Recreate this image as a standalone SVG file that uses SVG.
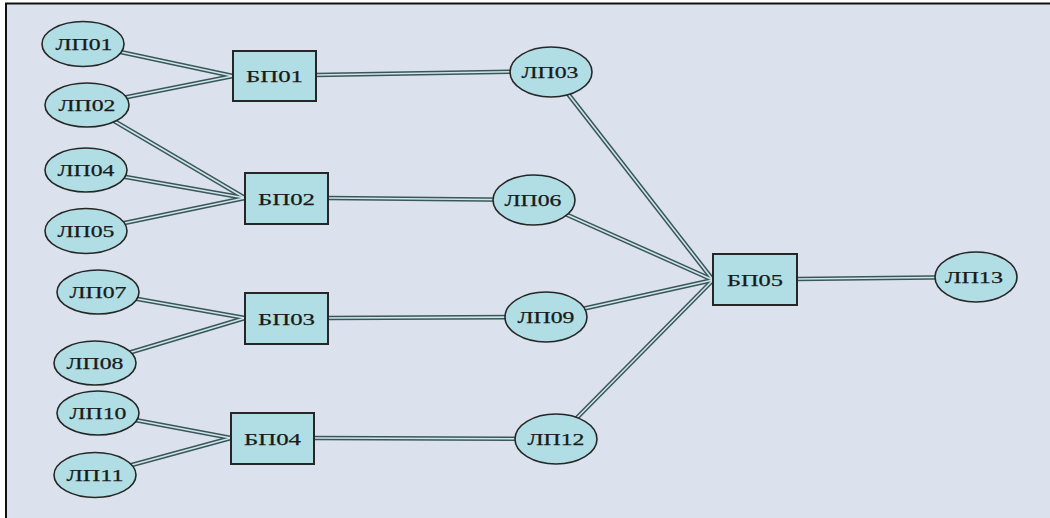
<svg xmlns="http://www.w3.org/2000/svg" xmlns:xlink="http://www.w3.org/1999/xlink" width="1050" height="518" viewBox="0 0 1050 518">
  <style>
    .lp { fill: #b1dee4; stroke: #262626; stroke-width: 1.6; }
    .bp { fill: #b1dee4; stroke: #262626; stroke-width: 2; }
    .lbl { font-family: "Liberation Serif", "Times New Roman", serif; font-size: 17px; fill: #1a1a1a; text-anchor: middle; stroke: #1a1a1a; stroke-width: 0.25; }
    .edges path { fill: none; }
  </style>
  <defs>
    <!-- shared geometry of all links; drawn twice to give the double-line look -->
    <g id="edge-paths" class="edges">
      <path d="M83,44 L233,76"/>
      <path d="M87,105 L233,76"/>
      <path d="M87,105 L245,198"/>
      <path d="M86,170 L245,198"/>
      <path d="M86,231 L245,198"/>
      <path d="M316,75 L551,71"/>
      <path d="M328,198 L534,200"/>
      <path d="M98,292 L245,318"/>
      <path d="M95,363 L245,318"/>
      <path d="M328,318 L546,317"/>
      <path d="M98,413 L231,438"/>
      <path d="M95,475 L231,438"/>
      <path d="M314,438 L556,439"/>
      <path d="M551,72 L713,280"/>
      <path d="M534,200 L713,280"/>
      <path d="M546,317 L713,280"/>
      <path d="M556,439 L713,280"/>
      <path d="M797,279 L976,277"/>
    </g>
  </defs>

  <!-- page and frame -->
  <rect x="0" y="0" width="1050" height="518" fill="#ffffff"/>
  <rect x="6" y="3.5" width="1044" height="515" fill="#dce2ed"/>
  <line x1="5" y1="3.5" x2="1050" y2="3.5" stroke="#111" stroke-width="2"/>
  <line x1="6" y1="3" x2="6" y2="518" stroke="#111" stroke-width="2"/>

  <g id="connectors">
    <use xlink:href="#edge-paths" stroke="#3a5659" stroke-width="4.6"/>
    <use xlink:href="#edge-paths" stroke="#cde6ea" stroke-width="1.6"/>
  </g>

  <g id="LP01"><ellipse class="lp" cx="83" cy="44" rx="41" ry="22.5"/><text class="lbl" x="84" y="50" textLength="57" lengthAdjust="spacingAndGlyphs">ЛП01</text></g>
  <g id="LP02"><ellipse class="lp" cx="87" cy="105" rx="42" ry="22"/><text class="lbl" x="87" y="111" textLength="57" lengthAdjust="spacingAndGlyphs">ЛП02</text></g>
  <g id="LP04"><ellipse class="lp" cx="86" cy="170" rx="41" ry="22"/><text class="lbl" x="86" y="176" textLength="57" lengthAdjust="spacingAndGlyphs">ЛП04</text></g>
  <g id="LP05"><ellipse class="lp" cx="86" cy="231" rx="41" ry="22.5"/><text class="lbl" x="86" y="237" textLength="57" lengthAdjust="spacingAndGlyphs">ЛП05</text></g>
  <g id="LP07"><ellipse class="lp" cx="98" cy="292" rx="41" ry="22"/><text class="lbl" x="98" y="298" textLength="57" lengthAdjust="spacingAndGlyphs">ЛП07</text></g>
  <g id="LP08"><ellipse class="lp" cx="95" cy="363" rx="41" ry="22"/><text class="lbl" x="95" y="369" textLength="57" lengthAdjust="spacingAndGlyphs">ЛП08</text></g>
  <g id="LP10"><ellipse class="lp" cx="98" cy="413" rx="41" ry="22"/><text class="lbl" x="98" y="419" textLength="57" lengthAdjust="spacingAndGlyphs">ЛП10</text></g>
  <g id="LP11"><ellipse class="lp" cx="95" cy="475" rx="41" ry="22.5"/><text class="lbl" x="95" y="481" textLength="57" lengthAdjust="spacingAndGlyphs">ЛП11</text></g>

  <g id="BP01"><rect class="bp" x="233" y="51" width="83" height="50"/><text class="lbl" x="274.5" y="82" textLength="57" lengthAdjust="spacingAndGlyphs">БП01</text></g>
  <g id="BP02"><rect class="bp" x="245" y="173" width="83" height="51"/><text class="lbl" x="286.5" y="204.5" textLength="57" lengthAdjust="spacingAndGlyphs">БП02</text></g>
  <g id="BP03"><rect class="bp" x="245" y="293" width="83" height="51"/><text class="lbl" x="286.5" y="324.5" textLength="57" lengthAdjust="spacingAndGlyphs">БП03</text></g>
  <g id="BP04"><rect class="bp" x="231" y="413" width="83" height="51"/><text class="lbl" x="272.5" y="444.5" textLength="57" lengthAdjust="spacingAndGlyphs">БП04</text></g>

  <g id="LP03"><ellipse class="lp" cx="551" cy="72" rx="41" ry="25"/><text class="lbl" x="550" y="78" textLength="57" lengthAdjust="spacingAndGlyphs">ЛП03</text></g>
  <g id="LP06"><ellipse class="lp" cx="534" cy="200" rx="41" ry="25"/><text class="lbl" x="533" y="206" textLength="57" lengthAdjust="spacingAndGlyphs">ЛП06</text></g>
  <g id="LP09"><ellipse class="lp" cx="546" cy="317" rx="41" ry="25"/><text class="lbl" x="546" y="323" textLength="57" lengthAdjust="spacingAndGlyphs">ЛП09</text></g>
  <g id="LP12"><ellipse class="lp" cx="556" cy="439" rx="41" ry="25"/><text class="lbl" x="556" y="445" textLength="57" lengthAdjust="spacingAndGlyphs">ЛП12</text></g>

  <g id="BP05"><rect class="bp" x="713" y="254" width="84" height="51"/><text class="lbl" x="755" y="285.5" textLength="56" lengthAdjust="spacingAndGlyphs">БП05</text></g>
  <g id="LP13"><ellipse class="lp" cx="976" cy="277" rx="41" ry="25"/><text class="lbl" x="974" y="283" textLength="58" lengthAdjust="spacingAndGlyphs">ЛП13</text></g>
</svg>
